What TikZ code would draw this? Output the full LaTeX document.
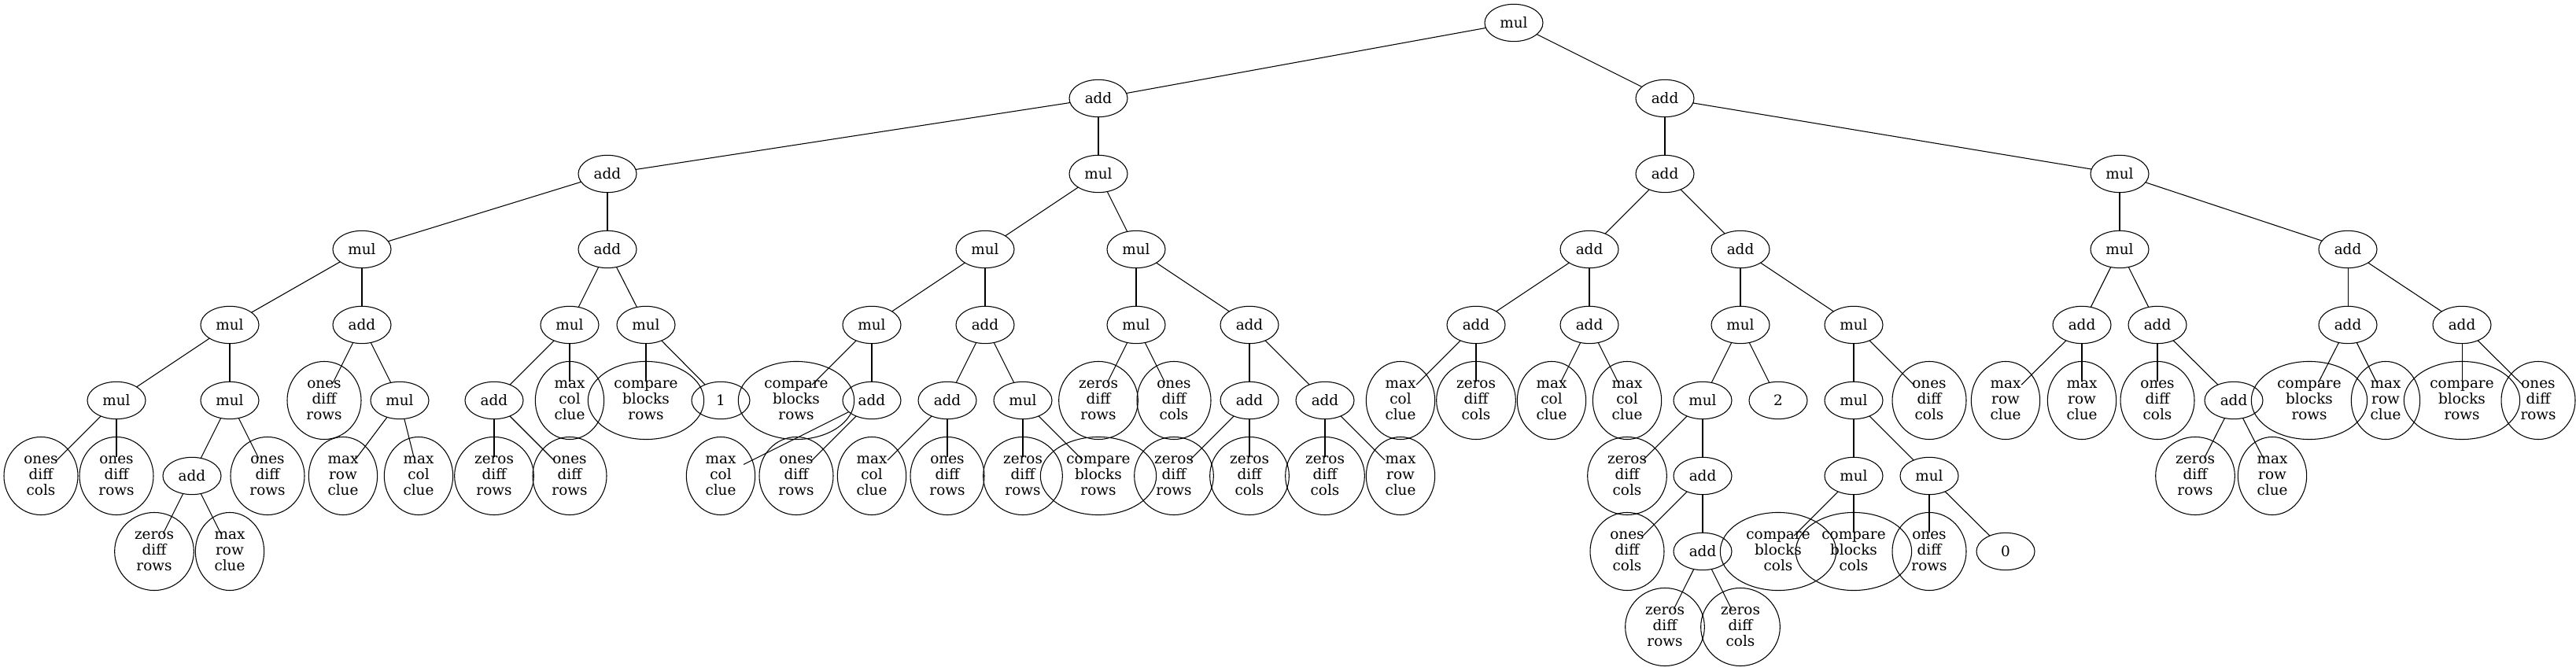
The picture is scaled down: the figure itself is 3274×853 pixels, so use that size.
\documentclass[tikz,border=0pt]{standalone}
\usepackage{fontspec}
\setmainfont{DejaVu Serif}
\usetikzlibrary{shapes.geometric}
\tikzset{
  core/.style={ellipse, minimum width=55.5pt, minimum height=35.5pt, inner sep=0pt, outer sep=0pt},
  txt/.style={font=\fontsize{13.8}{15}\selectfont, align=center},
  op/.style={core, txt, draw, line width=0.8pt},
  leafbox/.style={ellipse, txt, draw, line width=0.8pt, inner sep=0pt, outer sep=0pt, minimum height=74.3pt},
  wones/.style={leafbox, minimum width=70.5pt},
  wzeros/.style={leafbox, minimum width=75.5pt},
  wmax/.style={leafbox, minimum width=65.5pt},
  wcmp/.style={leafbox, minimum width=110.5pt},
  edge/.style={line width=0.8pt}
}
\newcommand\opnode[4]{\node[op] (#1) at (#2,#3) {#4};}
\newcommand\lfnode[5]{\node[core] (#1) at (#2,#3) {}; \node[#4] (#1t) at (#1) {#5};}
\begin{document}
\begin{tikzpicture}[x=0.75pt,y=-0.75pt]
\useasboundingbox (0,0) rectangle (3274,853);
% level 0
\opnode{r}{1924}{29}{mul}
% level 1
\opnode{a1}{1396}{125}{add}
\opnode{b1}{2116}{125}{add}
% level 2
\opnode{a2}{772}{221}{add}
\opnode{a3}{1396}{221}{mul}
\opnode{b2}{2116}{221}{add}
\opnode{b3}{2694}{221}{mul}
% level 3
\opnode{c1}{460}{317}{mul}
\opnode{c2}{772}{317}{add}
\opnode{c3}{1252}{317}{mul}
\opnode{c4}{1444}{317}{mul}
\opnode{c5}{2020}{317}{add}
\opnode{c6}{2212}{317}{add}
\opnode{c7}{2694}{317}{mul}
\opnode{c8}{2984}{317}{add}
% level 4
\opnode{d1}{292}{413}{mul}
\opnode{d2}{460}{413}{add}
\opnode{d3}{724}{413}{mul}
\opnode{d4}{821}{413}{mul}
\opnode{d5}{1108}{413}{mul}
\opnode{d6}{1252}{413}{add}
\opnode{d7}{1444}{413}{mul}
\opnode{d8}{1588}{413}{add}
\opnode{d9}{1876}{413}{add}
\opnode{d10}{2020}{413}{add}
\opnode{d11}{2212}{413}{mul}
\opnode{d12}{2356}{413}{mul}
\opnode{d13}{2646}{413}{add}
\opnode{d14}{2742}{413}{add}
\opnode{d15}{2984}{413}{add}
\opnode{d16}{3129}{413}{add}
% level 5
\opnode{e1}{148}{509}{mul}
\opnode{e2}{292}{509}{mul}
\lfnode{e3}{412}{509}{wones}{ones\\diff\\rows}
\opnode{e4}{508}{509}{mul}
\opnode{e5}{628}{509}{add}
\lfnode{e6}{724}{509}{wmax}{max\\col\\clue}
\lfnode{e7}{821}{509}{wcmp}{compare\\blocks\\rows}
\opnode{e8}{916}{509}{1}
\lfnode{e9}{1012}{509}{wcmp}{compare\\blocks\\rows}
\opnode{e10}{1108}{509}{add}
\opnode{e11}{1204}{509}{add}
\opnode{e12}{1300}{509}{mul}
\lfnode{e13}{1396}{509}{wzeros}{zeros\\diff\\rows}
\lfnode{e14}{1492}{509}{wones}{ones\\diff\\cols}
\opnode{e15}{1588}{509}{add}
\opnode{e16}{1684}{509}{add}
\lfnode{e17}{1780}{509}{wmax}{max\\col\\clue}
\lfnode{e18}{1876}{509}{wzeros}{zeros\\diff\\cols}
\lfnode{e19}{1972}{509}{wmax}{max\\col\\clue}
\lfnode{e20}{2068}{509}{wmax}{max\\col\\clue}
\opnode{e21}{2164}{509}{mul}
\opnode{e22}{2260}{509}{2}
\opnode{e23}{2356}{509}{mul}
\lfnode{e24}{2452}{509}{wones}{ones\\diff\\cols}
\lfnode{e25}{2549}{509}{wmax}{max\\row\\clue}
\lfnode{e26}{2646}{509}{wmax}{max\\row\\clue}
\lfnode{e27}{2742}{509}{wones}{ones\\diff\\cols}
\opnode{e28}{2839}{509}{add}
\lfnode{e29}{2935}{509}{wcmp}{compare\\blocks\\rows}
\lfnode{e30}{3032}{509}{wmax}{max\\row\\clue}
\lfnode{e31}{3129}{509}{wcmp}{compare\\blocks\\rows}
\lfnode{e32}{3226}{509}{wones}{ones\\diff\\rows}
% level 6
\lfnode{f1}{52}{605}{wones}{ones\\diff\\cols}
\lfnode{f2}{148}{605}{wones}{ones\\diff\\rows}
\opnode{f3}{244}{605}{add}
\lfnode{f4}{340}{605}{wones}{ones\\diff\\rows}
\lfnode{f5}{436}{605}{wmax}{max\\row\\clue}
\lfnode{f6}{532}{605}{wmax}{max\\col\\clue}
\lfnode{f7}{628}{605}{wzeros}{zeros\\diff\\rows}
\lfnode{f8}{724}{605}{wones}{ones\\diff\\rows}
\lfnode{f9}{916}{605}{wmax}{max\\col\\clue}
\lfnode{f10}{1012}{605}{wones}{ones\\diff\\rows}
\lfnode{f11}{1108}{605}{wmax}{max\\col\\clue}
\lfnode{f12}{1204}{605}{wones}{ones\\diff\\rows}
\lfnode{f13}{1300}{605}{wzeros}{zeros\\diff\\rows}
\lfnode{f14}{1396}{605}{wcmp}{compare\\blocks\\rows}
\lfnode{f15}{1492}{605}{wzeros}{zeros\\diff\\rows}
\lfnode{f16}{1588}{605}{wzeros}{zeros\\diff\\cols}
\lfnode{f17}{1684}{605}{wzeros}{zeros\\diff\\cols}
\lfnode{f18}{1780}{605}{wmax}{max\\row\\clue}
\lfnode{f19}{2068}{605}{wzeros}{zeros\\diff\\cols}
\opnode{f20}{2164}{605}{add}
\opnode{f21}{2356}{605}{mul}
\opnode{f22}{2452}{605}{mul}
\lfnode{f23}{2790}{605}{wzeros}{zeros\\diff\\rows}
\lfnode{f24}{2888}{605}{wmax}{max\\row\\clue}
% level 7
\lfnode{g1}{196}{701}{wzeros}{zeros\\diff\\rows}
\lfnode{g2}{292}{701}{wmax}{max\\row\\clue}
\lfnode{g3}{2068}{701}{wones}{ones\\diff\\cols}
\opnode{g4}{2164}{701}{add}
\lfnode{g5}{2260}{701}{wcmp}{compare\\blocks\\cols}
\lfnode{g6}{2356}{701}{wcmp}{compare\\blocks\\cols}
\lfnode{g7}{2452}{701}{wones}{ones\\diff\\rows}
\opnode{g8}{2549}{701}{0}
% level 8
\lfnode{h1}{2116}{797}{wzeros}{zeros\\diff\\rows}
\lfnode{h2}{2212}{797}{wzeros}{zeros\\diff\\cols}
% edges
\foreach \p/\c in {r/a1, r/b1, a1/a2, a1/a3, b1/b2, b1/b3,
  a2/c1, a2/c2, a3/c3, a3/c4, b2/c5, b2/c6, b3/c7, b3/c8,
  c1/d1, c1/d2, c2/d3, c2/d4, c3/d5, c3/d6, c4/d7, c4/d8,
  c5/d9, c5/d10, c6/d11, c6/d12, c7/d13, c7/d14, c8/d15, c8/d16,
  d1/e1, d1/e2, d2/e3, d2/e4, d3/e5, d3/e6, d4/e7, d4/e8,
  d5/e9, d5/e10, d6/e11, d6/e12, d7/e13, d7/e14, d8/e15, d8/e16,
  d9/e17, d9/e18, d10/e19, d10/e20, d11/e21, d11/e22, d12/e23, d12/e24,
  d13/e25, d13/e26, d14/e27, d14/e28, d15/e29, d15/e30, d16/e31, d16/e32,
  e1/f1, e1/f2, e2/f3, e2/f4, e4/f5, e4/f6, e5/f7, e5/f8,
  e10/f9, e10/f10, e11/f11, e11/f12, e12/f13, e12/f14,
  e15/f15, e15/f16, e16/f17, e16/f18, e21/f19, e21/f20,
  e23/f21, e23/f22, e28/f23, e28/f24,
  f3/g1, f3/g2, f20/g3, f20/g4, f21/g5, f21/g6, f22/g7, f22/g8,
  g4/h1, g4/h2}
  \draw[edge] (\p) -- (\c);
\end{tikzpicture}
\end{document}
